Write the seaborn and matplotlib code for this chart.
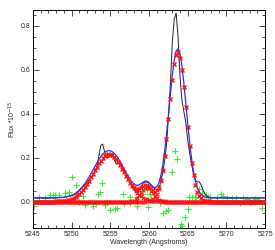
import numpy as np
import pandas as pd
import matplotlib
matplotlib.use("Agg")
import matplotlib.pyplot as plt
from matplotlib.ticker import MultipleLocator
import seaborn as sns

# wavelength sampling (Angstroms)
wavelength = [
    5245.0, 5245.25, 5245.5, 5245.75, 5246.0, 5246.25, 5246.5, 5246.75,
    5247.0, 5247.25, 5247.5, 5247.75, 5248.0, 5248.25, 5248.5, 5248.75,
    5249.0, 5249.25, 5249.5, 5249.75, 5250.0, 5250.25, 5250.5, 5250.75,
    5251.0, 5251.25, 5251.5, 5251.75, 5252.0, 5252.25, 5252.5, 5252.75,
    5253.0, 5253.25, 5253.5, 5253.75, 5254.0, 5254.25, 5254.5, 5254.75,
    5255.0, 5255.25, 5255.5, 5255.75, 5256.0, 5256.25, 5256.5, 5256.75,
    5257.0, 5257.25, 5257.5, 5257.75, 5258.0, 5258.25, 5258.5, 5258.75,
    5259.0, 5259.25, 5259.5, 5259.75, 5260.0, 5260.25, 5260.5, 5260.75,
    5261.0, 5261.25, 5261.5, 5261.75, 5262.0, 5262.25, 5262.5, 5262.75,
    5263.0, 5263.25, 5263.5, 5263.75, 5264.0, 5264.25, 5264.5, 5264.75,
    5265.0, 5265.25, 5265.5, 5265.75, 5266.0, 5266.25, 5266.5, 5266.75,
    5267.0, 5267.25, 5267.5, 5267.75, 5268.0, 5268.25, 5268.5, 5268.75,
    5269.0, 5269.25, 5269.5, 5269.75, 5270.0, 5270.25, 5270.5, 5270.75,
    5271.0, 5271.25, 5271.5, 5271.75, 5272.0, 5272.25, 5272.5, 5272.75,
    5273.0, 5273.25, 5273.5, 5273.75, 5274.0, 5274.25, 5274.5, 5274.75,
    5275.0,
]

# observed flux (black line)
observed = [
    0.016, 0.017, 0.015, 0.016, 0.018, 0.016, 0.015, 0.017,
    0.016, 0.018, 0.017, 0.016, 0.017, 0.018, 0.019, 0.019,
    0.020, 0.021, 0.023, 0.024, 0.027, 0.031, 0.037, 0.045,
    0.052, 0.060, 0.068, 0.078, 0.088, 0.098, 0.110, 0.122,
    0.136, 0.158, 0.205, 0.255, 0.262, 0.228, 0.200, 0.200,
    0.215, 0.218, 0.190, 0.172, 0.180, 0.172, 0.155, 0.140,
    0.125, 0.108, 0.090, 0.072, 0.058, 0.045, 0.042, 0.055,
    0.070, 0.082, 0.088, 0.090, 0.085, 0.075, 0.066, 0.058,
    0.053, 0.060, 0.085, 0.130, 0.182, 0.255, 0.380, 0.530,
    0.720, 0.830, 0.858, 0.750, 0.570, 0.460, 0.410, 0.360,
    0.280, 0.220, 0.170, 0.125, 0.097, 0.090, 0.090, 0.075,
    0.050, 0.033, 0.025, 0.020, 0.018, 0.017, 0.018, 0.016,
    0.017, 0.018, 0.017, 0.016, 0.017, 0.018, 0.016, 0.017,
    0.017, 0.016, 0.018, 0.017, 0.016, 0.017, 0.018, 0.017,
    0.016, 0.017, 0.018, 0.017, 0.016, 0.017, 0.018, 0.017,
    0.017,
]

# fitted gaussian components (red crosses)
component1 = [
    0, 0, 0, 0, 0, 0, 0, 0,
    0, 0, 0, 0, 0.001, 0.001, 0.002, 0.002,
    0.003, 0.005, 0.006, 0.009, 0.012, 0.016, 0.021, 0.028,
    0.035, 0.045, 0.055, 0.067, 0.081, 0.095, 0.111, 0.127,
    0.143, 0.159, 0.174, 0.187, 0.199, 0.207, 0.213, 0.215,
    0.214, 0.210, 0.202, 0.192, 0.180, 0.165, 0.150, 0.134,
    0.117, 0.102, 0.086, 0.072, 0.060, 0.049, 0.039, 0.031,
    0.024, 0.018, 0.014, 0.010, 0.007, 0.005, 0.004, 0.003,
    0.002, 0.001, 0.001, 0, 0, 0, 0, 0,
    0, 0, 0, 0, 0, 0, 0, 0,
    0, 0, 0, 0, 0, 0, 0, 0,
    0, 0, 0, 0, 0, 0, 0, 0,
    0, 0, 0, 0, 0, 0, 0, 0,
    0, 0, 0, 0, 0, 0, 0, 0,
    0, 0, 0, 0, 0, 0, 0, 0,
    0,
]
component2 = [
    0, 0, 0, 0, 0, 0, 0, 0,
    0, 0, 0, 0, 0, 0, 0, 0,
    0, 0, 0, 0, 0, 0, 0, 0,
    0, 0, 0, 0, 0, 0, 0, 0,
    0, 0, 0, 0, 0, 0, 0, 0,
    0, 0, 0, 0, 0, 0, 0, 0,
    0, 0, 0.001, 0.002, 0.005, 0.010, 0.018, 0.029,
    0.042, 0.054, 0.063, 0.065, 0.060, 0.050, 0.037, 0.024,
    0.015, 0.008, 0.004, 0.002, 0.001, 0, 0, 0,
    0, 0, 0, 0, 0, 0, 0, 0,
    0, 0, 0, 0, 0, 0, 0, 0,
    0, 0, 0, 0, 0, 0, 0, 0,
    0, 0, 0, 0, 0, 0, 0, 0,
    0, 0, 0, 0, 0, 0, 0, 0,
    0, 0, 0, 0, 0, 0, 0, 0,
    0,
]
component3 = [
    0, 0, 0, 0, 0, 0, 0, 0,
    0, 0, 0, 0, 0, 0, 0, 0,
    0, 0, 0, 0, 0, 0, 0, 0,
    0, 0, 0, 0, 0, 0, 0, 0,
    0, 0, 0, 0, 0, 0, 0, 0,
    0, 0, 0, 0, 0, 0, 0, 0,
    0, 0, 0, 0, 0, 0, 0, 0,
    0, 0, 0, 0.001, 0.002, 0.005, 0.010, 0.019,
    0.034, 0.057, 0.092, 0.141, 0.206, 0.285, 0.375, 0.468,
    0.555, 0.625, 0.669, 0.679, 0.655, 0.600, 0.522, 0.431,
    0.338, 0.252, 0.178, 0.120, 0.076, 0.046, 0.027, 0.015,
    0.008, 0.004, 0.002, 0.001, 0, 0, 0, 0,
    0, 0, 0, 0, 0, 0, 0, 0,
    0, 0, 0, 0, 0, 0, 0, 0,
    0, 0, 0, 0, 0, 0, 0, 0,
    0,
]
continuum = 0.017

# residuals (green plus signs)
resid_wavelength = [
    5245.1, 5245.8, 5246.5, 5247.2, 5247.6, 5247.9, 5248.3, 5249.2, 5249.6,
    5250.1, 5250.5, 5250.7, 5251.0, 5251.5, 5251.7, 5252.8, 5253.1, 5253.4,
    5253.7, 5253.9, 5254.3, 5255.0, 5255.6, 5255.9, 5256.6, 5256.8, 5257.5,
    5257.6, 5258.4, 5259.2, 5259.7, 5259.8, 5260.1, 5260.3, 5261.4, 5261.8,
    5262.2, 5262.4, 5263.0, 5263.4, 5263.6, 5264.1, 5264.3, 5264.7, 5265.0,
    5265.2, 5265.5, 5265.9, 5266.1, 5266.5, 5266.8, 5267.3, 5267.6, 5267.9,
    5268.8, 5269.3, 5269.6, 5270.1, 5270.7, 5271.2, 5271.8, 5272.2, 5272.7,
    5273.1, 5273.7, 5274.2, 5274.6,
]
resid_flux = [
    -0.018, 0.023, 0.018, 0.030, 0.030, 0.030, 0.030, 0.038, 0.045,
    0.110, 0.075, 0.035, 0.000, 0.026, -0.015, -0.018, -0.010, 0.033,
    0.042, 0.083, -0.015, -0.038, -0.032, -0.028, 0.036, -0.005, 0.023,
    -0.007, -0.018, 0.035, 0.053, -0.023, 0.035, 0.012, -0.007, -0.050,
    -0.042, -0.040, 0.136, 0.230, 0.193, -0.100, -0.110, -0.068, -0.033,
    0.023, 0.020, 0.020, 0.020, 0.056, 0.038, 0.030, 0.020, 0.022,
    0.020, 0.034, 0.025, 0.015, 0.015, 0.015, -0.008, 0.015, 0.010,
    0.000, 0.010, 0.008, -0.030,
]

x_ticks = [5245, 5250, 5255, 5260, 5265, 5270, 5275]
y_ticks = [0.0, 0.2, 0.4, 0.6, 0.8]

# ---------------------------------------------------------------
df = pd.DataFrame({
    "wl": wavelength,
    "obs": observed,
    "c1": component1,
    "c2": component2,
    "c3": component3,
})
df["total"] = df["c1"] + df["c2"] + df["c3"]
df["fit"] = df["total"] + continuum
resid = pd.DataFrame({"wl": resid_wavelength, "r": resid_flux})

sns.set_style("ticks")
plt.rcParams["font.family"] = ["Liberation Sans", "DejaVu Sans"]

fig = plt.figure(figsize=(2.75, 2.5), dpi=100)
ax = fig.add_axes([0.12, 0.088, 0.844, 0.872])

sns.scatterplot(data=resid, x="wl", y="r", marker="+", color="#33ee33",
                s=14, linewidth=0.8, ax=ax, zorder=2)
sns.lineplot(data=df, x="wl", y="obs", color="#222222", linewidth=0.7,
             ax=ax, zorder=3)
sns.lineplot(data=df, x="wl", y="fit", color="#2b2bff", linewidth=0.9,
             ax=ax, zorder=4)
for col in ["c1", "c2", "c3", "total"]:
    sns.scatterplot(data=df, x="wl", y=col, marker="x", color="#ff1010",
                    s=7, linewidth=0.8, ax=ax, zorder=5)

ax.set_xlim(5245, 5275)
ax.set_ylim(-0.12, 0.872)
ax.set_xticks(x_ticks)
ax.set_yticks(y_ticks)
ax.set_xticklabels([str(t) for t in x_ticks])
ax.set_yticklabels([f"{t:.1f}" for t in y_ticks])
ax.xaxis.set_minor_locator(MultipleLocator(1))
ax.yaxis.set_minor_locator(MultipleLocator(0.05))
ax.tick_params(which="both", direction="in", top=True, right=True,
               labelsize=5, width=0.6, pad=2)
ax.tick_params(which="major", length=4)
ax.tick_params(which="minor", length=2)
for s in ax.spines.values():
    s.set_linewidth(0.7)
    s.set_color("black")
ax.set_xlabel("Wavelength (Angstroms)", fontsize=5, labelpad=1)
ax.set_ylabel("Flux *10$^{-15}$", fontsize=5, labelpad=2)

fig.savefig("out.png", dpi=100)
